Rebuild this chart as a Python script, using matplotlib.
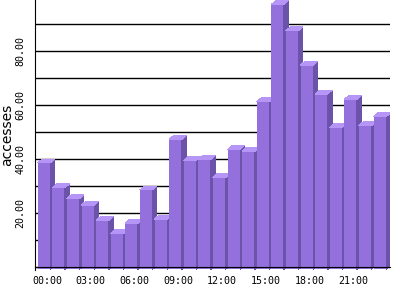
import matplotlib.pyplot as plt
from matplotlib.patches import Polygon, Rectangle
from matplotlib.ticker import MultipleLocator, FixedLocator, FormatStrFormatter

# hourly accesses
hours = ['%02d:00' % h for h in range(24)]
accesses = [38.6, 29.4, 25.4, 23.0, 17.3, 12.4, 16.3, 28.6, 17.8, 47.3, 39.6, 39.9,
            33.2, 43.6, 42.9, 61.2, 97.2, 87.5, 74.8, 64.1, 51.7, 62.1, 52.4, 55.7]
label_hours = [0, 3, 6, 9, 12, 15, 18, 21]

front_col = '#9370db'
side_col = '#6a53a8'
top_col = '#b595f5'

fig = plt.figure(figsize=(4, 3), dpi=100)
ax = fig.add_axes([0.0875, 0.1, 0.8875, 0.9])

w = 0.86     # front face width (slot units)
dx = 0.3     # depth, x
dy = 1.45    # depth, y
base = -0.8  # bars run a little below the axis line

for i, v in enumerate(accesses):
    l, r = i - w / 2, i + w / 2
    ax.add_patch(Rectangle((l, base), w, v - base, facecolor=front_col, edgecolor='none',
                           antialiased=False, zorder=2))
    ax.add_patch(Polygon([(r, base), (r + dx, base + dy), (r + dx, v + dy), (r, v)],
                         closed=True, facecolor=side_col, edgecolor='none',
                         antialiased=False, zorder=2))
    ax.add_patch(Polygon([(l, v), (l + dx, v + dy), (r + dx, v + dy), (r, v)],
                         closed=True, facecolor=top_col, edgecolor='none',
                         antialiased=False, zorder=2))

ax.set_xlim(-0.62, 23.7)
ax.set_ylim(-1.0, 98.9)

ax.spines['top'].set_visible(False)
ax.spines['right'].set_visible(False)
ax.spines['bottom'].set_position(('data', 0))
ax.spines['bottom'].set_zorder(3)

ax.yaxis.set_major_locator(FixedLocator([20, 40, 60, 80]))
ax.yaxis.set_minor_locator(MultipleLocator(10))
ax.yaxis.set_major_formatter(FormatStrFormatter('%.2f'))
ax.grid(True, which='both', axis='y', color='black', linewidth=1)
ax.set_axisbelow(True)

ax.set_xticks([h + 0.2 for h in label_hours])
ax.set_xticklabels([hours[h] for h in label_hours])

ax.tick_params(axis='both', which='both', length=0)
ax.tick_params(axis='x', pad=6, labelsize=7.2)
ax.tick_params(axis='y', pad=7, labelsize=7.2)
for t in ax.get_xticklabels() + ax.get_yticklabels():
    t.set_family('DejaVu Sans Mono')
for t in ax.get_yticklabels():
    t.set_rotation(90)
    t.set_va('center')

ax.set_ylabel('accesses', fontsize=10, labelpad=1)

fig.savefig('out.png', dpi=100)
